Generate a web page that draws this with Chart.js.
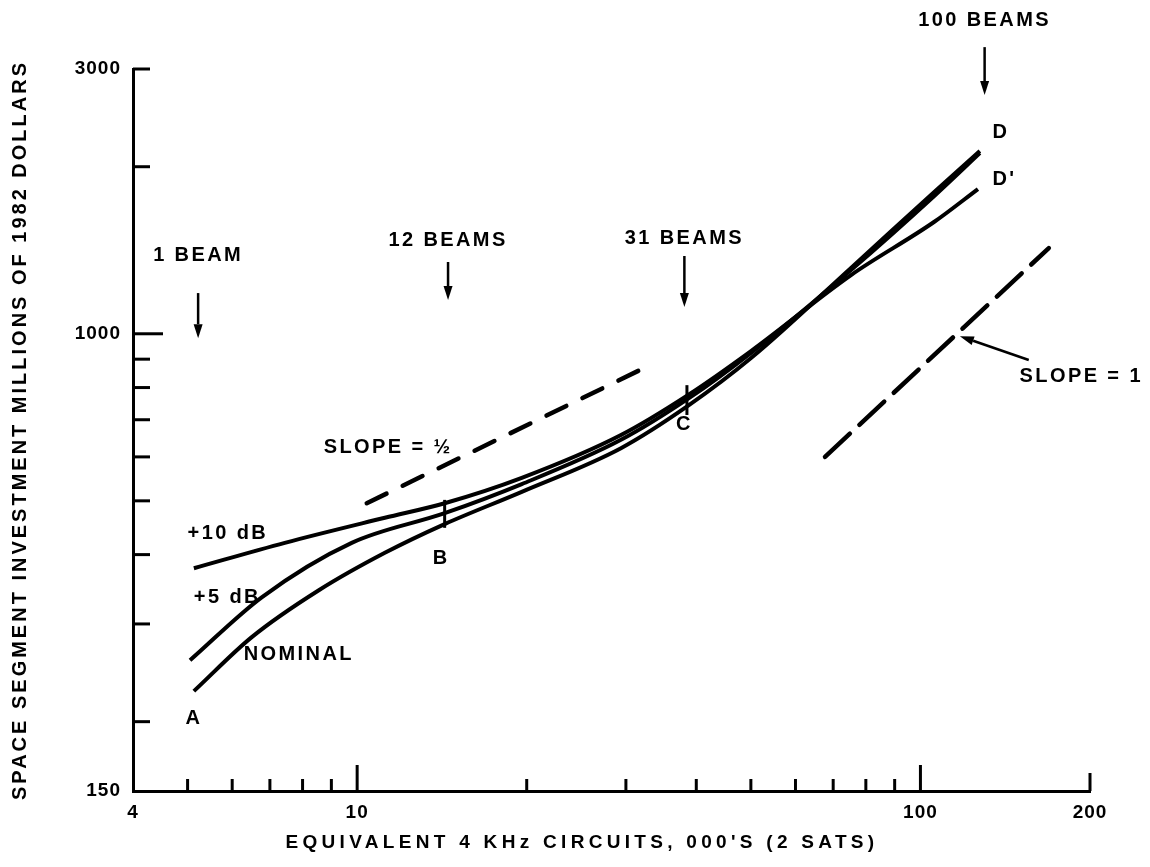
<!DOCTYPE html>
<html>
<head>
<meta charset="utf-8">
<script src="https://cdn.jsdelivr.net/npm/chart.js@4.4.1/dist/chart.umd.min.js"></script>
<style>
  html, body { margin: 0; background: #fff; }
  canvas { display: block; }
</style>
</head>
<body>
<canvas id="costChart" width="1150" height="867"></canvas>
<script>
// Space segment investment vs circuits (log-log)
const nominalX = [5.13, 6.5, 8.55, 11.2, 14.3, 19.6, 29.4, 38.7, 50.1, 75.3, 105.7, 127.5];
const nominalY = [227, 284, 345, 403, 454, 519, 622, 742, 905, 1314, 1800, 2135];
const plus5X = [5.05, 6.77, 9.78, 14.3, 19.6, 29.4, 38.7, 50.1, 75.3, 105.7, 127.5];
const plus5Y = [258, 335, 420, 475, 536, 644, 764, 925, 1303, 1770, 2117];
const plus10X = [5.13, 7.44, 11.2, 14.3, 19.6, 29.4, 38.7, 50.1, 75.3, 105.7, 126.5];
const plus10Y = [378, 420, 466, 495, 550, 657, 776, 932, 1276, 1590, 1823];

// reference slopes
const slopeHalfX = [10.4, 32.5];
const slopeHalfY = [495, 870];
const slopeOneX = [67.7, 169];
const slopeOneY = [600, 1427];

// axes
const xTickLabels = [4, 10, 100, 200];
const yTickLabels = [150, 1000, 3000];
const xTickMarks = [5, 6, 7, 8, 9, 10, 20, 30, 40, 50, 60, 70, 80, 90, 100, 200];
const yTickMarks = [200, 300, 400, 500, 600, 700, 800, 900, 1000, 2000, 3000];

// beam count markers (x, arrow from / to in data units)
const beamText = ['1 BEAM', '12 BEAMS', '31 BEAMS', '100 BEAMS'];
const beamX = [5.22, 14.5, 38.1, 130];
const beamTextY = [1386, 1475, 1488, 3675];
const beamArrowFrom = [1184, 1347, 1381, 3285];
const beamArrowTo = [982, 1150, 1117, 2693];

// points B and C marked across the curves
const markX = [14.3, 38.5];
const markLow = [447, 714];
const markHigh = [502, 808];

// text labels on the plot
const labels = [
    { text: 'A', x: 5.13, y: 203 },
    { text: 'B', x: 14.1, y: 394 },
    { text: 'C', x: 38.1, y: 685 },
    { text: 'D', x: 139, y: 2309 },
    { text: "D'", x: 141, y: 1893 },
    { text: '+10 dB', x: 5.0, y: 437, left: true },
    { text: '+5 dB', x: 5.13, y: 335, left: true },
    { text: 'NOMINAL', x: 6.29, y: 264, left: true },
    { text: 'SLOPE = ½', x: 8.72, y: 625, left: true },
    { text: 'SLOPE = 1', x: 150, y: 836, left: true }
];

const toPoints = (xs, ys) => xs.map((v, i) => ({ x: v, y: ys[i] }));

function arrow(ctx, x1, y1, x2, y2) {
    const a = Math.atan2(y2 - y1, x2 - x1);
    const head = 14, half = 4.5;
    const c = Math.cos(a), s = Math.sin(a);
    ctx.beginPath();
    ctx.moveTo(x1, y1);
    ctx.lineTo(x2 - head * c, y2 - head * s);
    ctx.stroke();
    ctx.beginPath();
    ctx.moveTo(x2, y2);
    ctx.lineTo(x2 - head * c + half * s, y2 - head * s - half * c);
    ctx.lineTo(x2 - head * c - half * s, y2 - head * s + half * c);
    ctx.closePath();
    ctx.fill();
}

const decorations = {
    id: 'decorations',
    beforeDraw(chart) {
        chart.ctx.letterSpacing = '1px';
    },
    afterDraw(chart) {
        const { ctx, chartArea } = chart;
        const x = chart.scales.x, y = chart.scales.y;
        ctx.save();
        ctx.strokeStyle = '#000';
        ctx.fillStyle = '#000';
        ctx.lineCap = 'butt';

        // inward tick marks
        ctx.lineWidth = 3;
        xTickMarks.forEach(v => {
            const px = x.getPixelForValue(v);
            const len = (v === 10 || v === 100) ? 26 : (v === 200 ? 18 : 12);
            ctx.beginPath();
            ctx.moveTo(px, chartArea.bottom);
            ctx.lineTo(px, chartArea.bottom - len);
            ctx.stroke();
        });
        yTickMarks.forEach(v => {
            const py = y.getPixelForValue(v);
            const len = v === 1000 ? 30 : 17;
            ctx.beginPath();
            ctx.moveTo(chartArea.left, py);
            ctx.lineTo(chartArea.left + len, py);
            ctx.stroke();
        });

        // B / C cross marks
        markX.forEach((v, i) => {
            const px = x.getPixelForValue(v);
            ctx.beginPath();
            ctx.moveTo(px, y.getPixelForValue(markLow[i]));
            ctx.lineTo(px, y.getPixelForValue(markHigh[i]));
            ctx.stroke();
        });

        ctx.font = 'bold 20px "Liberation Sans"';
        ctx.letterSpacing = '2.4px';
        ctx.textBaseline = 'middle';

        // beam arrows
        ctx.lineWidth = 2.5;
        beamX.forEach((v, i) => {
            const px = x.getPixelForValue(v);
            arrow(ctx, px, y.getPixelForValue(beamArrowFrom[i]), px, y.getPixelForValue(beamArrowTo[i]));
            ctx.textAlign = 'center';
            ctx.fillText(beamText[i], px, y.getPixelForValue(beamTextY[i]));
        });

        // pointer to the slope = 1 line
        arrow(ctx, x.getPixelForValue(155.7), y.getPixelForValue(897),
                   x.getPixelForValue(117.5), y.getPixelForValue(990));

        labels.forEach(l => {
            ctx.textAlign = l.left ? 'left' : 'center';
            ctx.fillText(l.text, x.getPixelForValue(l.x), y.getPixelForValue(l.y));
        });

        // axis titles
        ctx.font = 'bold 19px "Liberation Sans"';
        ctx.letterSpacing = '4.3px';
        ctx.textAlign = 'center';
        ctx.fillText("EQUIVALENT 4 KHz CIRCUITS, 000'S (2 SATS)", 582, 843);

        ctx.font = 'bold 20px "Liberation Sans"';
        ctx.letterSpacing = '3px';
        ctx.translate(20, (chartArea.top + chartArea.bottom) / 2);
        ctx.rotate(-Math.PI / 2);
        ctx.fillText('SPACE SEGMENT INVESTMENT MILLIONS OF 1982 DOLLARS', 0, 0);
        ctx.restore();
        ctx.letterSpacing = '0px';
    }
};

const curveStyle = {
    borderColor: '#000', borderWidth: 4, pointRadius: 0,
    cubicInterpolationMode: 'monotone', fill: false
};

Chart.defaults.font.family = '"Liberation Sans", Arial, sans-serif';
Chart.defaults.color = '#000';

document.addEventListener('DOMContentLoaded', () => {
    const ctx = document.getElementById('costChart').getContext('2d');
    new Chart(ctx, {
        type: 'line',
        data: {
            datasets: [
                { label: 'NOMINAL', data: toPoints(nominalX, nominalY), ...curveStyle },
                { label: '+5 dB', data: toPoints(plus5X, plus5Y), ...curveStyle },
                { label: '+10 dB', data: toPoints(plus10X, plus10Y), ...curveStyle },
                { label: 'SLOPE = ½', data: toPoints(slopeHalfX, slopeHalfY), ...curveStyle,
                  borderWidth: 4.5, borderDash: [22, 18], borderCapStyle: 'round', cubicInterpolationMode: 'default', tension: 0 },
                { label: 'SLOPE = 1', data: toPoints(slopeOneX, slopeOneY), ...curveStyle,
                  borderWidth: 4.5, borderDash: [34, 13], borderCapStyle: 'round', cubicInterpolationMode: 'default', tension: 0 }
            ]
        },
        options: {
            responsive: false,
            animation: false,
            devicePixelRatio: 1,
            layout: { padding: { top: 69, right: 60, left: 0, bottom: 0 } },
            plugins: { legend: { display: false }, tooltip: { enabled: false } },
            scales: {
                x: {
                    type: 'logarithmic',
                    min: 4,
                    max: 200,
                    afterBuildTicks: s => { s.ticks = xTickLabels.map(v => ({ value: v })); },
                    afterFit: s => { s.height = 76; },
                    grid: { display: false },
                    border: { display: true, color: '#000', width: 3 },
                    ticks: {
                        autoSkip: false, maxRotation: 0, padding: 2,
                        font: { size: 19, weight: 'bold' },
                        callback: v => String(v)
                    }
                },
                y: {
                    type: 'logarithmic',
                    min: 150,
                    max: 3000,
                    afterBuildTicks: s => { s.ticks = yTickLabels.map(v => ({ value: v })); },
                    afterFit: s => { s.width = 133; },
                    grid: { display: false },
                    border: { display: true, color: '#000', width: 3 },
                    ticks: {
                        autoSkip: false, padding: 4,
                        font: { size: 19, weight: 'bold' },
                        callback: v => String(v)
                    }
                }
            }
        },
        plugins: [decorations]
    });
});
</script>
</body>
</html>
